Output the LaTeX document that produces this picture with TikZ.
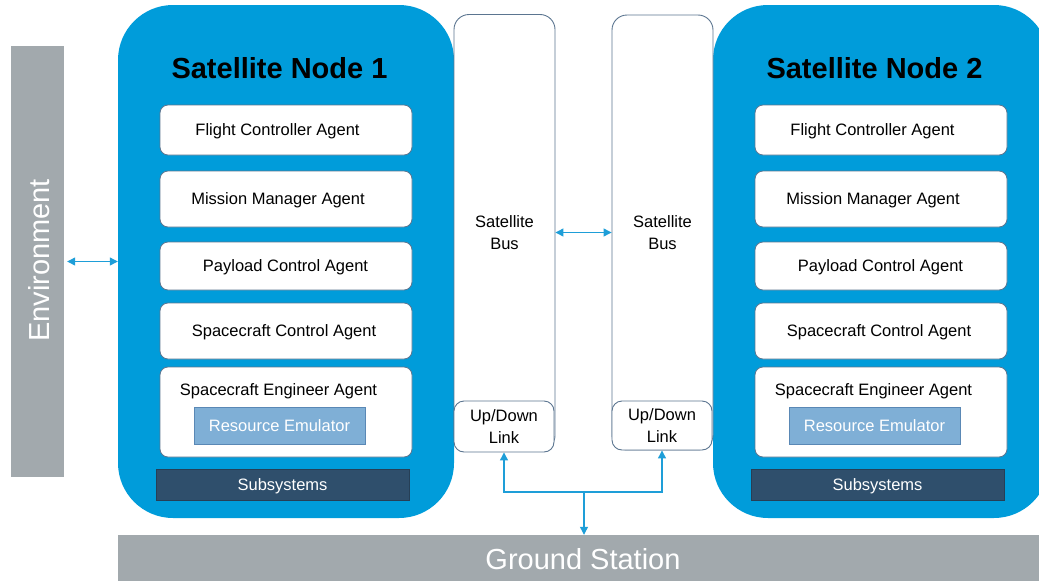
\documentclass[tikz,border=0pt]{standalone}
\usepackage{fontspec}
\setmainfont{Liberation Sans}
\usetikzlibrary{arrows.meta}
\definecolor{satblue}{HTML}{009CDA}
\definecolor{envgray}{HTML}{A2A9AD}
\definecolor{edgegray}{HTML}{5B7590}
\definecolor{subdark}{HTML}{2F4F6C}
\definecolor{emufill}{HTML}{7FAFD6}
\definecolor{emuedge}{HTML}{5A88B5}
\definecolor{arrowblue}{HTML}{1E9ED8}
\begin{document}
\begin{tikzpicture}[x=1pt,y=-1pt,
  txt/.style={font=\fontsize{16.5}{22}\selectfont, text depth=0pt},
  bigtxt/.style={font=\fontsize{29}{34}\selectfont, text depth=0pt},
  satnode/.style={fill=satblue, rounded corners=55pt, minimum width=336pt, minimum height=513pt, inner sep=0pt},
  titletxt/.style={font=\fontsize{29}{34}\selectfont\bfseries, inner sep=0pt},
  agentbox/.style={draw=edgegray, line width=0.8pt, fill=white, rounded corners=8pt, minimum width=252pt, inner sep=0pt, txt},
  agentlabel/.style={txt, inner sep=0pt},
  emubox/.style={draw=emuedge, line width=0.8pt, fill=emufill, minimum width=171pt, minimum height=37pt, inner sep=0pt, txt, text=white},
  subbox/.style={draw=subdark!80!black, line width=0.6pt, fill=subdark, minimum width=253pt, minimum height=31pt, inner sep=0pt, txt, text=white},
  busbox/.style={draw=edgegray, line width=0.9pt, fill=white, rounded corners=15pt, minimum width=101pt, inner sep=0pt, txt, align=center},
  linkbox/.style={draw=edgegray, line width=0.9pt, fill=white, rounded corners=10pt, minimum width=100pt, inner sep=0pt, txt, align=center},
  graybar/.style={fill=envgray, inner sep=0pt},
  biarrow/.style={arrowblue, line width=1.2pt, {Triangle[length=8pt,width=8pt]}-{Triangle[length=8pt,width=8pt]}},
  onearrow/.style={arrowblue, line width=1.2pt, -{Triangle[length=8pt,width=8pt]}}
]
\useasboundingbox (0,0) rectangle (1039,581);
\clip (0,0) rectangle (1039,581);

% Environment
\node[graybar, minimum width=53pt, minimum height=431pt] (env) at (37.5,261) {};
\node[bigtxt, text=white, rotate=90, inner sep=0pt] (envtxt) at (38.5,260.5) {Environment};

% Ground station
\node[graybar, minimum width=921pt, minimum height=46pt] (ground) at (578.5,558) {};
\node[bigtxt, text=white, inner sep=0pt] (groundtxt) at (583,559) {Ground Station};

% Satellite nodes
\foreach \n/\dx in {1/0,2/595}{
  \node[satnode] (sat\n) at (286+\dx,261.5) {};
  \node[titletxt] (title\n) at (279.5+\dx,68) {Satellite Node \n};
  \node[agentbox, minimum height=50pt, label={[agentlabel,xshift=-8.5pt]center:Flight Controller Agent}] (fca\n) at (286+\dx,130) {};
  \node[agentbox, minimum height=56pt, label={[agentlabel,xshift=-8pt]center:Mission Manager Agent}] (mma\n) at (286+\dx,199) {};
  \node[agentbox, minimum height=48pt, label={[agentlabel,xshift=-0.5pt]center:Payload Control Agent}] (pca\n) at (286+\dx,266) {};
  \node[agentbox, minimum height=56pt, label={[agentlabel,xshift=-2pt]center:Spacecraft Control Agent}] (sca\n) at (286+\dx,331) {};
  \node[agentbox, minimum height=90pt] (sea\n) at (286+\dx,412) {};
  \node[txt, inner sep=0pt] (seatxt\n) at (278.5+\dx,390) {Spacecraft Engineer Agent};
  \node[emubox] (emu\n) at (279.5+\dx,425.5) {Resource Emulator};
  \node[subbox] (sub\n) at (282.5+\dx,485) {Subsystems};
}

% Satellite buses
\node[busbox, minimum height=436pt] (bus1) at (504.5,232.5) {Satellite\\Bus};
\node[linkbox, minimum height=51pt] (link1) at (504,426.5) {Up/Down\\Link};
\node[busbox, minimum height=435pt] (bus2) at (662.5,232.5) {Satellite\\Bus};
\node[linkbox, minimum height=49pt] (link2) at (662,425.5) {Up/Down\\Link};

% Connectors
\coordinate (envy) at (0,261.5);
\draw[biarrow] ([xshift=3pt]env.east |- envy) -- (sat1.west |- envy);
\draw[biarrow] (bus1.east) -- (bus2.west);
\coordinate (jn) at (584,492);
\draw[biarrow] (link1.south) |- (jn) -| (link2.south);
\draw[onearrow] (jn) -- (jn |- ground.north);
\end{tikzpicture}
\end{document}
